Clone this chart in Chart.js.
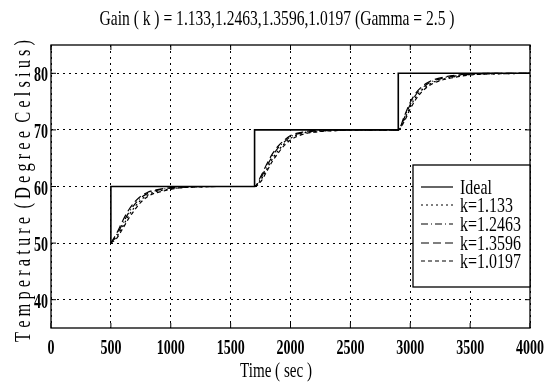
<!DOCTYPE html>
<html>
<head>
<meta charset="utf-8">
<script src="https://cdn.jsdelivr.net/npm/chart.js@4"></script>
<style>
html, body { margin: 0; padding: 0; background: #fff; }
canvas { display: block; }
</style>
</head>
<body>
<canvas id="tempChart" width="547" height="384"></canvas>
<script>
const chartTitle = 'Gain ( k ) = 1.133,1.2463,1.3596,1.0197 (Gamma = 2.5 )';
const xTitle = 'Time ( sec )';
const yTitle = 'T e m p e r a t u r e  ( D e g r e e  C e l s i u s )';

const xTicks = [0, 500, 1000, 1500, 2000, 2500, 3000, 3500, 4000];
const yTicks = [40, 50, 60, 70, 80];

// ideal set point (step changes)
const idealTime = [500, 500, 1700, 1700, 2900, 2900, 4000];
const idealTemp = [50, 60, 60, 70, 70, 80, 80];

// sample times of the controlled responses
const timeSec = [500, 550, 600, 650, 700, 750, 800, 850, 900, 1000, 1100, 1200, 1400,
    1700, 1750, 1800, 1850, 1900, 1950, 2000, 2100, 2200, 2400, 2600,
    2900, 2950, 3000, 3050, 3100, 3150, 3200, 3300, 3400, 3500, 3700, 4000];

const k1133 = [50, 51.2, 53.0, 54.9, 56.4, 57.6, 58.4, 58.9, 59.2, 59.6, 59.8, 59.9, 60.0,
    60.0, 61.1, 63.0, 64.9, 66.4, 67.6, 68.5, 69.4, 69.7, 69.9, 70.0,
    70.0, 71.8, 74.1, 75.9, 77.1, 77.9, 78.5, 79.1, 79.5, 79.8, 79.9, 80.0];
const k12463 = [50, 51.5, 53.5, 55.4, 56.9, 58.0, 58.7, 59.1, 59.4, 59.7, 59.9, 60.0, 60.0,
    60.0, 61.4, 63.5, 65.4, 66.9, 67.9, 68.8, 69.5, 69.8, 70.0, 70.0,
    70.0, 72.1, 74.5, 76.3, 77.4, 78.2, 78.7, 79.3, 79.6, 79.8, 80.0, 80.0];
const k13596 = [50, 51.8, 54.0, 55.9, 57.3, 58.3, 58.9, 59.3, 59.5, 59.8, 59.9, 60.0, 60.0,
    60.0, 61.7, 63.9, 65.8, 67.2, 68.2, 69.0, 69.6, 69.9, 70.0, 70.0,
    70.0, 72.4, 74.9, 76.6, 77.7, 78.4, 78.9, 79.4, 79.7, 79.9, 80.0, 80.0];
const k10197 = [50, 50.9, 52.6, 54.4, 55.9, 57.2, 58.1, 58.7, 59.0, 59.5, 59.8, 59.9, 60.0,
    60.0, 60.8, 62.6, 64.5, 66.0, 67.3, 68.2, 69.2, 69.6, 69.9, 70.0,
    70.0, 71.5, 73.7, 75.5, 76.8, 77.7, 78.3, 79.0, 79.4, 79.7, 79.9, 80.0];

const seriesLabels = ['Ideal', 'k=1.133', 'k=1.2463', 'k=1.3596', 'k=1.0197'];
const seriesDash = [[], [2, 3], [7, 3, 1, 3], [8, 4], [4, 3]];

const FONT = '"Liberation Serif", "DejaVu Serif", serif';

function toPoints(xs, ys) {
    return xs.map((x, i) => ({ x: x, y: ys[i] }));
}

// serif text squeezed horizontally, like the narrow font of the original plot
function narrowText(ctx, text, x, y, size, sx, align, weight) {
    ctx.save();
    ctx.font = (weight || '') + ' ' + size + 'px ' + FONT;
    ctx.fillStyle = '#000';
    ctx.textAlign = align || 'center';
    ctx.textBaseline = 'alphabetic';
    ctx.translate(x, y);
    ctx.scale(sx, 1);
    ctx.fillText(text, 0, 0);
    ctx.restore();
}

function fitScale(ctx, text, size, width, weight) {
    ctx.save();
    ctx.font = (weight || '') + ' ' + size + 'px ' + FONT;
    const w = ctx.measureText(text).width;
    ctx.restore();
    return width / w;
}

const decorPlugin = {
    id: 'decor',
    afterDatasetsDraw(chart) {
        const ctx = chart.ctx;
        const area = chart.chartArea;
        const xs = chart.scales.x;
        const ys = chart.scales.y;

        // frame
        ctx.save();
        ctx.strokeStyle = '#000';
        ctx.lineWidth = 1.3;
        ctx.strokeRect(area.left, area.top, area.right - area.left, area.bottom - area.top);

        // inward tick marks
        ctx.lineWidth = 1;
        ctx.beginPath();
        xTicks.forEach(v => {
            const px = xs.getPixelForValue(v);
            ctx.moveTo(px, area.bottom); ctx.lineTo(px, area.bottom - 5);
            ctx.moveTo(px, area.top); ctx.lineTo(px, area.top + 5);
        });
        yTicks.forEach(v => {
            const py = ys.getPixelForValue(v);
            ctx.moveTo(area.left, py); ctx.lineTo(area.left + 5, py);
            ctx.moveTo(area.right, py); ctx.lineTo(area.right - 5, py);
        });
        ctx.stroke();
        ctx.restore();

        // tick labels
        const digitScale = fitScale(ctx, '4000', 22, 28, 'bold');
        xTicks.forEach(v => {
            narrowText(ctx, String(v), xs.getPixelForValue(v), area.bottom + 26, 22, digitScale, 'center', 'bold');
        });
        yTicks.forEach(v => {
            narrowText(ctx, String(v), area.left - 3, ys.getPixelForValue(v) + 8, 22, digitScale, 'right', 'bold');
        });

        // titles
        narrowText(ctx, chartTitle, 277, 25, 21, fitScale(ctx, chartTitle, 21, 355), 'center');
        narrowText(ctx, xTitle, 276, 377, 21, fitScale(ctx, xTitle, 21, 72), 'center');
        ctx.save();
        ctx.translate(30, 191);
        ctx.rotate(-Math.PI / 2);
        narrowText(ctx, yTitle, 0, 0, 23, fitScale(ctx, yTitle, 23, 302), 'center');
        ctx.restore();

        // legend box in the lower right corner
        const lx = 413, ly = 165, lw = area.right - 413, lh = 122;
        ctx.save();
        ctx.fillStyle = '#fff';
        ctx.fillRect(lx, ly, lw, lh);
        ctx.strokeStyle = '#000';
        ctx.lineWidth = 1.3;
        ctx.strokeRect(lx, ly, lw, lh);
        ctx.restore();

        const rowY = [187, 205, 224, 243, 261];
        const legendScale = fitScale(ctx, 'k=1.2463', 22, 61);
        seriesLabels.forEach((label, i) => {
            ctx.save();
            ctx.strokeStyle = '#000';
            ctx.lineWidth = 1.2;
            ctx.setLineDash(seriesDash[i]);
            ctx.beginPath();
            ctx.moveTo(421, rowY[i]);
            ctx.lineTo(453, rowY[i]);
            ctx.stroke();
            ctx.restore();
            narrowText(ctx, label, 460, rowY[i] + 7, 22, legendScale, 'left');
        });
    }
};

const datasets = [{
    label: seriesLabels[0],
    data: toPoints(idealTime, idealTemp),
    borderColor: '#000',
    borderWidth: 1.6,
    borderDash: seriesDash[0],
    pointRadius: 0,
    tension: 0
}];
[k1133, k12463, k13596, k10197].forEach((vals, i) => {
    datasets.push({
        label: seriesLabels[i + 1],
        data: toPoints(timeSec, vals),
        borderColor: '#000',
        borderWidth: 1.2,
        borderDash: seriesDash[i + 1],
        pointRadius: 0,
        cubicInterpolationMode: 'monotone'
    });
});

new Chart(document.getElementById('tempChart'), {
    type: 'line',
    data: { datasets: datasets },
    options: {
        responsive: false,
        animation: false,
        devicePixelRatio: 1,
        layout: { padding: { left: 51, right: 17, top: 45, bottom: 56 } },
        plugins: {
            legend: { display: false },
            title: { display: false },
            tooltip: { enabled: false }
        },
        scales: {
            x: {
                type: 'linear',
                min: 0,
                max: 4000,
                afterBuildTicks: s => { s.ticks = xTicks.map(v => ({ value: v })); },
                afterFit: s => { s.height = 0; },
                ticks: { display: false },
                grid: { color: '#000', lineWidth: 1, drawTicks: false },
                border: { display: false, dash: [2, 4] }
            },
            y: {
                type: 'linear',
                min: 35,
                max: 85,
                afterBuildTicks: s => { s.ticks = yTicks.map(v => ({ value: v })); },
                afterFit: s => { s.width = 0; },
                ticks: { display: false },
                grid: { color: '#000', lineWidth: 1, drawTicks: false },
                border: { display: false, dash: [2, 4] }
            }
        }
    },
    plugins: [decorPlugin]
});
</script>
</body>
</html>
